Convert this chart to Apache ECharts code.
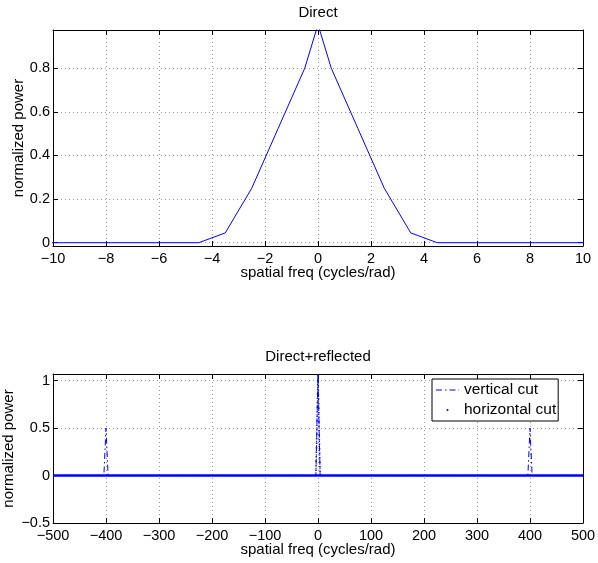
<!DOCTYPE html>
<html><head><meta charset="utf-8">
<script src="https://cdn.jsdelivr.net/npm/echarts@6/dist/echarts.min.js"></script>
<style>html,body{margin:0;padding:0;background:#fff}#c{width:598px;height:563px}</style>
</head><body><div id="c"></div>
<script>
// ---- data ----
const directFreq  = [-10.5, -4.5, -3.5, -2.5, -1.5, -0.5, 0, 0.5, 1.5, 2.5, 3.5, 4.5, 10.5];
const directPower = [0, 0, 0.045, 0.25, 0.525, 0.8, 1.0, 0.8, 0.525, 0.25, 0.045, 0, 0];

const vertFreq  = [-500, -404, -400, -396, -4, 0, 4, 396, 400, 404, 500];
const vertPower = [0, 0, 0.5, 0, 0, 1.07, 0, 0, 0.5, 0, 0];

const horizFreq  = [-500, 500];
const horizPower = [0, 0];
const horizSpikeFreq  = [-4, 0, 4];
const horizSpikePower = [0, 1.07, 0];

const topXTicks = {min: -10, max: 10, interval: 2};
const botXTicks = {min: -500, max: 500, interval: 100};
const topYRange = {min: -0.015, max: 0.975};
const botYTicks = {min: -0.5, max: 1.07, interval: 0.5};

// ---- helpers ----
const FONT = '"Liberation Sans", Arial, Helvetica, sans-serif';
const BLUE = '#0000ff';
const fmt = v => String(+(+v).toFixed(3)).replace('-', '\u2212');
const zip = (a, b) => a.map((x, i) => [x, b[i]]);

function xAxis(grid, r, main) {
  return Object.assign({
    type: 'value', gridIndex: grid, position: main ? 'bottom' : 'top',
    axisLine: {show: true, onZero: false, lineStyle: {color: '#000', width: 1}},
    axisTick: {show: true, inside: true, length: 5, lineStyle: {color: '#000'}},
    axisLabel: {show: main, margin: 5, color: '#000', fontFamily: FONT, fontSize: 14.5, formatter: fmt},
    splitLine: {show: main, lineStyle: {color: '#999', type: [1, 3], width: 1}},
    name: main ? 'spatial freq (cycles/rad)' : '', nameLocation: 'middle', nameGap: 19, nameMoveOverlap: false,
    nameTextStyle: {color: '#000', fontFamily: FONT, fontSize: 15}
  }, r);
}
function yAxis(grid, r, main, hideMin, gap) {
  return Object.assign({
    type: 'value', gridIndex: grid, position: main ? 'left' : 'right',
    axisLine: {show: true, onZero: false, lineStyle: {color: '#000', width: 1}},
    axisTick: {show: true, inside: true, length: 5, lineStyle: {color: '#000'}},
    axisLabel: {show: main, margin: 3, color: '#000', fontFamily: FONT, fontSize: 14.5, formatter: fmt,
                showMinLabel: !hideMin, showMaxLabel: false},
    splitLine: {show: main, lineStyle: {color: '#999', type: [1, 3], width: 1}},
    name: main ? 'normalized power' : '', nameLocation: 'middle', nameGap: gap, nameRotate: 90, nameMoveOverlap: false,
    nameTextStyle: {color: '#000', fontFamily: FONT, fontSize: 15}
  }, r);
}

const chart = echarts.init(document.getElementById('c'), null, {renderer: 'canvas'});
chart.setOption({
  animation: false,
  backgroundColor: '#fff',
  title: [
    {text: 'Direct', left: 318, top: 5, textAlign: 'center', padding: 0,
     textStyle: {fontFamily: FONT, fontSize: 15, fontWeight: 'normal', color: '#000'}},
    {text: 'Direct+reflected', left: 318, top: 349, textAlign: 'center', padding: 0,
     textStyle: {fontFamily: FONT, fontSize: 15, fontWeight: 'normal', color: '#000'}}
  ],
  grid: [
    {left: 53, right: 15, top: 30, height: 216, containLabel: false, outerBoundsMode: 'none'},
    {left: 53, right: 15, top: 374, height: 149, containLabel: false, outerBoundsMode: 'none'}
  ],
  xAxis: [
    xAxis(0, topXTicks, true), xAxis(0, topXTicks, false),
    xAxis(1, botXTicks, true), xAxis(1, botXTicks, false)
  ],
  yAxis: [
    yAxis(0, topYRange, true, true, 27), yAxis(0, topYRange, false, true, 0),
    yAxis(1, botYTicks, true, false, 37), yAxis(1, botYTicks, false, false, 0)
  ],
  legend: {
    orient: 'vertical', left: 432, top: 379, padding: [3, 2, 3, 3], itemGap: 4,
    itemWidth: 23, itemHeight: 2.5, backgroundColor: '#fff', borderColor: '#000', borderWidth: 1, borderRadius: 0,
    selectedMode: false,
    textStyle: {fontFamily: FONT, fontSize: 15.5, color: '#000'},
    data: [
      {name: 'vertical cut', itemStyle: {opacity: 0}, lineStyle: {width: 1}},
      {name: 'horizontal cut', lineStyle: {opacity: 0}, itemStyle: {color: BLUE, opacity: 1}}
    ]
  },
  series: [
    {name: 'direct', type: 'line', xAxisIndex: 0, yAxisIndex: 0, symbol: 'none', clip: true,
     lineStyle: {color: BLUE, width: 1}, itemStyle: {color: BLUE}, data: zip(directFreq, directPower)},
    {name: 'vertical cut', type: 'line', xAxisIndex: 2, yAxisIndex: 2, symbol: 'none', clip: true,
     lineStyle: {color: BLUE, width: 1, type: [6, 3, 1.5, 3]}, itemStyle: {color: BLUE}, data: zip(vertFreq, vertPower)},
    {name: 'horizontal cut', type: 'line', xAxisIndex: 2, yAxisIndex: 2, symbol: 'none', clip: true,
     lineStyle: {color: BLUE, width: 2.5}, itemStyle: {color: BLUE}, data: zip(horizFreq, horizPower)},
    {name: 'horizontal cut', type: 'line', xAxisIndex: 2, yAxisIndex: 2, symbol: 'none', clip: true,
     lineStyle: {color: BLUE, width: 1.5, type: [1.5, 3]}, itemStyle: {color: BLUE}, data: zip(horizSpikeFreq, horizSpikePower)}
  ]
});
</script></body></html>
